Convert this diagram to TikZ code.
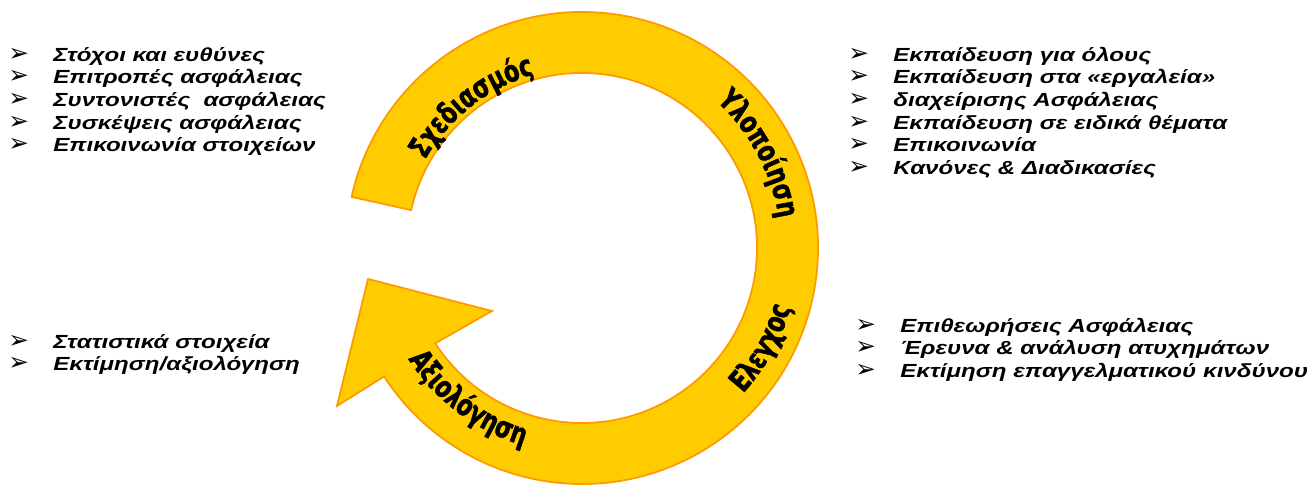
\documentclass[tikz,border=0pt]{standalone}
\usepackage{fontspec}
\setmainfont{Liberation Sans}[FakeStretch=1.27]
\newfontfamily\bulletfont{DejaVu Sans}
\newfontfamily\ringfont{DejaVu Sans}[FakeStretch=0.74,FakeBold=1.6]
\usetikzlibrary{decorations.text}

\definecolor{ringfill}{HTML}{FFCC00}
\definecolor{ringline}{HTML}{FF9900}
\newcommand{\bul}{\makebox[0.9cm][l]{\bulletfont\fontsize{14}{14}\selectfont ➢}\strut}

\tikzset{
  itemlist/.style={anchor=north west, inner sep=0pt, align=left,
    font=\fontsize{10.8}{12.86}\selectfont\bfseries\itshape},
  ringlabel/.style={decorate, decoration={text along path, text align=center,
    text={|\ringfont\bfseries\fontsize{17}{17}\selectfont|#1}}}
}

\begin{document}
\begin{tikzpicture}
        \useasboundingbox (0,0) rectangle (26.2,9.76);
        \coordinate (c) at (11.64,4.80);

        % Draw the cycle arrow (ring with head)
        \draw[ringline, fill=ringfill, line width=1pt]
          ([shift={(c)}]167.5:4.72) arc[start angle=167.5, end angle=-147, radius=4.72]
          -- (6.74,1.64) -- (7.36,4.18) -- (9.84,3.54)
          -- ([shift={(c)}]-147:3.5) arc[start angle=-147, end angle=167.5, radius=3.5]
          -- cycle;

        % Stage names along the ring
        \path[ringlabel={Σχεδιασμός}] ([shift={(c)}]170:3.6) arc[start angle=170, end angle=86, radius=3.6];
        \path[ringlabel={Υλοποίηση}] ([shift={(c)}]70:3.98) arc[start angle=70, end angle=-14, radius=3.98];
        \path[ringlabel={Ελεγχος}] ([shift={(c)}]-71:4.34) arc[start angle=-71, end angle=13, radius=4.34];
        \path[ringlabel={Αξιολόγηση}] ([shift={(c)}]190:4.12) arc[start angle=190, end angle=276, radius=4.12];

        % Planning items (top left)
        \node[itemlist] (plan) at (0.16,8.856) {\bul Στόχοι και ευθύνες\\
          \bul Επιτροπές ασφάλειας\\
          \bul Συντονιστές~ ασφάλειας\\
          \bul Συσκέψεις ασφάλειας\\
          \bul Επικοινωνία στοιχείων};

        % Implementation items (top right)
        \node[itemlist] (impl) at (16.96,8.856) {\bul Εκπαίδευση για όλους\\
          \bul Εκπαίδευση στα «εργαλεία»\\
          \bul διαχείρισης Ασφάλειας\\
          \bul Εκπαίδευση σε ειδικά θέματα\\
          \bul Επικοινωνία\\
          \bul Κανόνες \& Διαδικασίες};

        % Control items (bottom right)
        \node[itemlist] (ctrl) at (17.1,3.436) {\bul Επιθεωρήσεις Ασφάλειας\\
          \bul Έρευνα \& ανάλυση ατυχημάτων\\
          \bul Εκτίμηση επαγγελματικού κινδύνου};

        % Evaluation items (bottom left)
        \node[itemlist] (eval) at (0.16,3.116) {\bul Στατιστικά στοιχεία\\
          \bul Εκτίμηση/αξιολόγηση};
    \end{tikzpicture}
\end{document}
